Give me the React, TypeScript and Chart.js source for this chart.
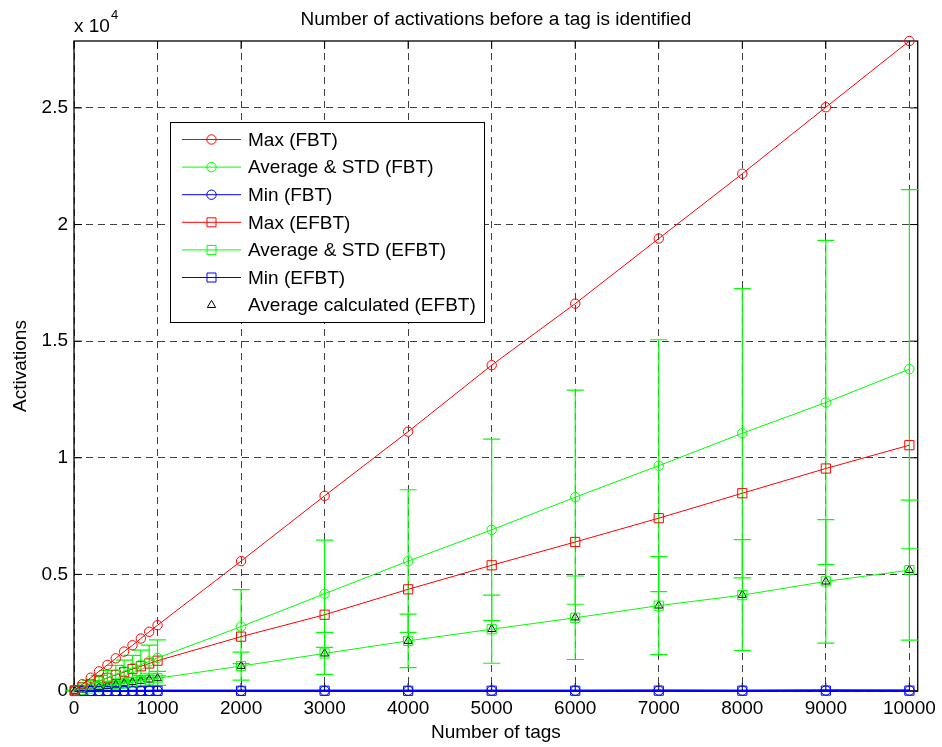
import React, { useEffect, useRef } from 'react';
import { Chart, registerables } from 'chart.js';

Chart.register(...registerables);

const FONT = '"Liberation Sans", Arial, Helvetica, sans-serif';

const chartTitle = 'Number of activations before a tag is identified';
const xTitle = 'Number of tags';
const yTitle = 'Activations';
const legendLabels = [
  'Max (FBT)',
  'Average & STD (FBT)',
  'Min (FBT)',
  'Max (EFBT)',
  'Average & STD (EFBT)',
  'Min (EFBT)',
  'Average calculated (EFBT)',
];

const xTickValues = [0, 1000, 2000, 3000, 4000, 5000, 6000, 7000, 8000, 9000, 10000];
const yTickValues = [0, 5000, 10000, 15000, 20000, 25000];
const yTickLabels = ['0', '0.5', '1', '1.5', '2', '2.5'];

const tags = [10, 100, 200, 300, 400, 500, 600, 700, 800, 900, 1000, 2000, 3000, 4000, 5000, 6000, 7000, 8000, 9000, 10000];

const maxFBT = [30, 290, 570, 840, 1120, 1400, 1690, 1960, 2250, 2540, 2820, 5570, 8370, 11120, 13970, 16610, 19400, 22180, 25030, 27870];
const avgFBT = [15, 150, 290, 430, 570, 710, 850, 990, 1130, 1270, 1420, 2760, 4170, 5570, 6910, 8310, 9660, 11050, 12370, 13800];
const stdFBT = [8, 80, 160, 240, 310, 390, 470, 540, 620, 700, 770, 1590, 2300, 3060, 3890, 4590, 5400, 6200, 6950, 7700];
const minFBT = [1, 3, 2, 4, 3, 5, 4, 6, 5, 7, 6, 9, 12, 10, 15, 13, 17, 16, 20, 18];

const maxEFBT = [20, 160, 300, 420, 560, 690, 810, 940, 1060, 1180, 1300, 2330, 3270, 4360, 5390, 6390, 7410, 8480, 9540, 10540];
const avgEFBT = [6, 55, 110, 165, 215, 270, 325, 380, 430, 490, 545, 1070, 1610, 2150, 2650, 3140, 3660, 4110, 4700, 5180];
const stdEFBT = [3, 30, 60, 90, 120, 150, 180, 210, 240, 270, 300, 600, 900, 1150, 1460, 1790, 2100, 2380, 2650, 3000];
const minEFBT = [1, 2, 3, 2, 4, 3, 5, 4, 6, 5, 7, 8, 11, 9, 13, 12, 15, 14, 17, 16];

const avgCalcEFBT = [6, 55, 109, 164, 217, 271, 326, 380, 433, 488, 542, 1075, 1605, 2145, 2650, 3150, 3660, 4120, 4690, 5190];

const xMax = 10100;
const yMax = 27870;

const RED = '#ff0000';
const GREEN = '#00ff00';
const BLUE = '#0000ff';
const FS = 19;

function series(label: string, values: number[], color: string, style: string, radius: number, showLine = true, width = 1) {
  return {
    label,
    data: tags.map((x, i) => ({ x, y: values[i] })),
    borderColor: color,
    backgroundColor: 'transparent',
    pointStyle: style,
    pointRadius: radius,
    pointHoverRadius: radius,
    pointBorderColor: color,
    pointBackgroundColor: 'transparent',
    pointBorderWidth: 1,
    borderWidth: width,
    showLine,
    tension: 0,
    clip: false as any,
  };
}

function drawMarker(ctx: CanvasRenderingContext2D, style: string, x: number, y: number, color: string) {
  ctx.save();
  ctx.strokeStyle = color;
  ctx.lineWidth = 1;
  ctx.beginPath();
  if (style === 'circle') {
    ctx.arc(x, y, 4.7, 0, Math.PI * 2);
  } else if (style === 'rect') {
    ctx.rect(x - 4.5, y - 4.5, 9, 9);
  } else {
    const r = 4.8;
    ctx.moveTo(x, y - r);
    ctx.lineTo(x + r * 0.866, y + r * 0.5);
    ctx.lineTo(x - r * 0.866, y + r * 0.5);
    ctx.closePath();
  }
  ctx.stroke();
  ctx.restore();
}

export default function App() {
  const ref = useRef<HTMLCanvasElement>(null);

  useEffect(() => {
    if (!ref.current) return;

    const frameAndBars = {
      id: 'frameAndBars',
      beforeDatasetsDraw(chart: any) {
        const { ctx, scales, chartArea } = chart;
        const { left, right, top, bottom } = chartArea;
        const xs = scales.x;
        const ys = scales.y;
        ctx.save();
        // frame
        ctx.strokeStyle = '#000';
        ctx.lineWidth = 1.3;
        ctx.strokeRect(left, top, right - left, bottom - top);
        // inside ticks
        ctx.lineWidth = 1;
        ctx.beginPath();
        xs.ticks.forEach((t: any) => {
          const px = xs.getPixelForValue(t.value);
          ctx.moveTo(px, bottom);
          ctx.lineTo(px, bottom - 8);
          ctx.moveTo(px, top);
          ctx.lineTo(px, top + 8);
        });
        ys.ticks.forEach((t: any) => {
          const py = ys.getPixelForValue(t.value);
          ctx.moveTo(left, py);
          ctx.lineTo(left + 8, py);
          ctx.moveTo(right, py);
          ctx.lineTo(right - 8, py);
        });
        ctx.stroke();

        // error bars
        ctx.strokeStyle = GREEN;
        ctx.lineWidth = 1.2;
        const draw = (means: number[], stds: number[]) => {
          tags.forEach((t, i) => {
            const px = xs.getPixelForValue(t);
            const tp = ys.getPixelForValue(means[i] + stds[i]);
            const bt = ys.getPixelForValue(means[i] - stds[i]);
            ctx.beginPath();
            ctx.moveTo(px, tp);
            ctx.lineTo(px, bt);
            ctx.moveTo(px - 8.5, tp);
            ctx.lineTo(px + 8.5, tp);
            ctx.moveTo(px - 8.5, bt);
            ctx.lineTo(px + 8.5, bt);
            ctx.stroke();
          });
        };
        draw(avgFBT, stdFBT);
        draw(avgEFBT, stdEFBT);
        ctx.restore();
      },
    };

    const decorations = {
      id: 'decorations',
      afterDraw(chart: any) {
        const { ctx, chartArea } = chart;
        const { left, right, top, bottom } = chartArea;
        ctx.save();
        ctx.fillStyle = '#000';
        ctx.font = `${FS}px ${FONT}`;
        ctx.textAlign = 'center';
        ctx.textBaseline = 'middle';
        ctx.fillText(chartTitle, (left + right) / 2, 20);
        ctx.fillText(xTitle, (left + right) / 2, 733);
        ctx.save();
        ctx.translate(21, (top + bottom) / 2);
        ctx.rotate(-Math.PI / 2);
        ctx.fillText(yTitle, 0, 0);
        ctx.restore();
        // x 10^4
        ctx.textAlign = 'left';
        ctx.textBaseline = 'alphabetic';
        ctx.fillText('x 10', 74, 32);
        const w = ctx.measureText('x 10').width;
        ctx.font = `13px ${FONT}`;
        ctx.fillText('4', 74 + w + 1, 19);

        // legend
        const lx = 170, ly = 122, lw = 314, lh = 200;
        ctx.fillStyle = '#fff';
        ctx.fillRect(lx, ly, lw, lh);
        ctx.strokeStyle = '#000';
        ctx.lineWidth = 1;
        ctx.strokeRect(lx + 0.5, ly + 0.5, lw, lh);
        const colors = [RED, GREEN, BLUE, RED, GREEN, BLUE, '#000'];
        const styles = ['circle', 'circle', 'circle', 'rect', 'rect', 'rect', 'triangle'];
        ctx.font = `${FS}px ${FONT}`;
        ctx.textBaseline = 'middle';
        ctx.textAlign = 'left';
        legendLabels.forEach((lab, i) => {
          const y = 139.5 + i * 27.6;
          if (i < 6) {
            ctx.strokeStyle = colors[i];
            ctx.lineWidth = 1;
            ctx.beginPath();
            ctx.moveTo(182, y);
            ctx.lineTo(241, y);
            ctx.stroke();
          }
          drawMarker(ctx, styles[i], 211.5, y, colors[i]);
          ctx.fillStyle = '#000';
          ctx.fillText(lab, 248, y + 1);
        });
        ctx.restore();
      },
    };

    const chart = new Chart(ref.current, {
      type: 'line',
      data: {
        datasets: [
          series(legendLabels[0], maxFBT, RED, 'circle', 4.7),
          series(legendLabels[1], avgFBT, GREEN, 'circle', 4.7),
          series(legendLabels[2], minFBT, BLUE, 'circle', 4.7, true, 2),
          series(legendLabels[3], maxEFBT, RED, 'rect', 6.5),
          series(legendLabels[4], avgEFBT, GREEN, 'rect', 6.5),
          series(legendLabels[5], minEFBT, BLUE, 'rect', 6.5, true, 2),
          series(legendLabels[6], avgCalcEFBT, '#000', 'triangle', 4.8, false),
        ] as any,
      },
      options: {
        animation: false,
        responsive: false,
        devicePixelRatio: 1,
        events: [],
        layout: { padding: { left: 0, top: 41, right: 21, bottom: 0 } },
        plugins: {
          legend: { display: false },
          title: { display: false },
          tooltip: { enabled: false },
        },
        scales: {
          x: {
            type: 'linear',
            min: 0,
            max: xMax,
            afterFit: (s: any) => { s.height = 56; },
            afterBuildTicks: (s: any) => { s.ticks = xTickValues.map((v) => ({ value: v })); },
            grid: { color: 'rgba(0,0,0,0.75)', lineWidth: 1, drawTicks: false },
            border: { display: false, dash: [7, 5] },
            ticks: {
              padding: 6,
              maxRotation: 0,
              minRotation: 0,
              autoSkip: false,
              color: '#000',
              font: { family: FONT, size: FS },
              callback: (v: any) => String(v),
            },
          },
          y: {
            type: 'linear',
            min: 0,
            max: yMax,
            afterFit: (s: any) => { s.width = 74; },
            afterBuildTicks: (s: any) => { s.ticks = yTickValues.map((v) => ({ value: v })); },
            grid: { color: 'rgba(0,0,0,0.75)', lineWidth: 1, drawTicks: false },
            border: { display: false, dash: [7, 5] },
            ticks: {
              padding: 6,
              autoSkip: false,
              color: '#000',
              font: { family: FONT, size: FS },
              callback: (v: any) => {
                const i = yTickValues.indexOf(Number(v));
                return i >= 0 ? yTickLabels[i] : '';
              },
            },
          },
        },
      } as any,
      plugins: [frameAndBars, decorations],
    });

    return () => chart.destroy();
  }, []);

  return (
    <div style={{ position: 'absolute', left: 0, top: 0, width: 942, height: 747, background: '#fff' }}>
      <canvas ref={ref} width={942} height={747} style={{ width: 942, height: 747, display: 'block' }} />
    </div>
  );
}
